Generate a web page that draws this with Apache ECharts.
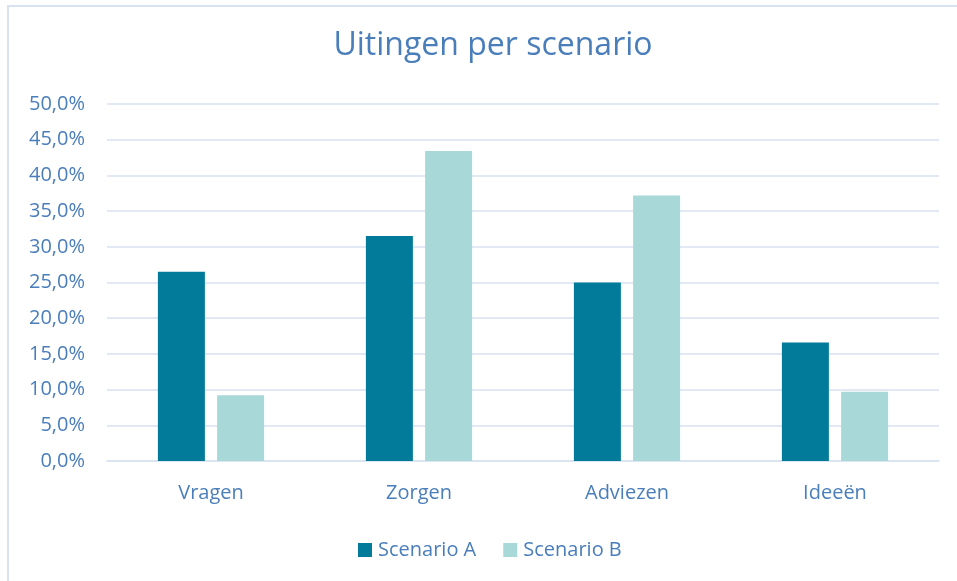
<!DOCTYPE html>
<html>
<head>
<meta charset="utf-8">
<script src="https://cdn.jsdelivr.net/npm/echarts@6/dist/echarts.min.js"></script>
<style>
  html, body { margin: 0; padding: 0; background: #fff; }
  #main { width: 957px; height: 581px; }
</style>
</head>
<body>
<div id="main"></div>
<script>
var categories = ['Vragen', 'Zorgen', 'Adviezen', 'Ideeën'];
var scenarioA = [26.5, 31.5, 25.0, 16.6];
var scenarioB = [9.2, 43.4, 37.2, 9.7];

var textColor = '#4a7ebb';
var gridColor = '#d9e2f0';
var fontFam = 'Open Sans';

var myChart = echarts.init(document.getElementById('main'));

var option = {
  backgroundColor: '#fff',
  animation: false,
  title: {
    text: 'Uitingen per scenario',
    left: 488,
    top: 25,
    textAlign: 'center',
    textStyle: { color: textColor, fontSize: 32, fontWeight: 'normal', fontFamily: fontFam }
  },
  graphic: [{
    type: 'polyline',
    shape: { points: [[8, 600], [8, 6], [960, 6]] },
    style: { stroke: gridColor, lineWidth: 2, fill: null }
  }],
  legend: {
    left: 353,
    top: 535,
    itemWidth: 14,
    itemHeight: 14,
    itemGap: 27,
    icon: 'rect',
    textStyle: { color: textColor, fontSize: 20, fontFamily: fontFam, padding: [0, 0, 0, 1] },
    data: ['Scenario A', 'Scenario B']
  },
  grid: { left: 107, right: 18, top: 104, bottom: 120 },
  xAxis: {
    type: 'category',
    data: categories,
    axisTick: { show: false },
    axisLine: { show: true, lineStyle: { color: gridColor, width: 1.5 } },
    axisLabel: { color: textColor, fontSize: 20, fontFamily: fontFam, margin: 22 }
  },
  yAxis: {
    type: 'value',
    min: 0,
    max: 50,
    interval: 5,
    axisLine: { show: false },
    axisTick: { show: false },
    splitLine: { lineStyle: { color: gridColor, width: 1.5 } },
    axisLabel: {
      color: textColor, fontSize: 20, fontFamily: fontFam, margin: 22,
      formatter: function (v) { return v.toFixed(1).replace('.', ',') + '%'; }
    }
  },
  series: [{
    name: 'Scenario A',
    type: 'bar',
    data: scenarioA,
    barWidth: 47,
    barGap: '26%',
    itemStyle: { color: '#027b9b' }
  }, {
    name: 'Scenario B',
    type: 'bar',
    data: scenarioB,
    barWidth: 47,
    itemStyle: { color: '#a9d8d8' }
  }]
};

myChart.setOption(option, true);
</script>
</body>
</html>
